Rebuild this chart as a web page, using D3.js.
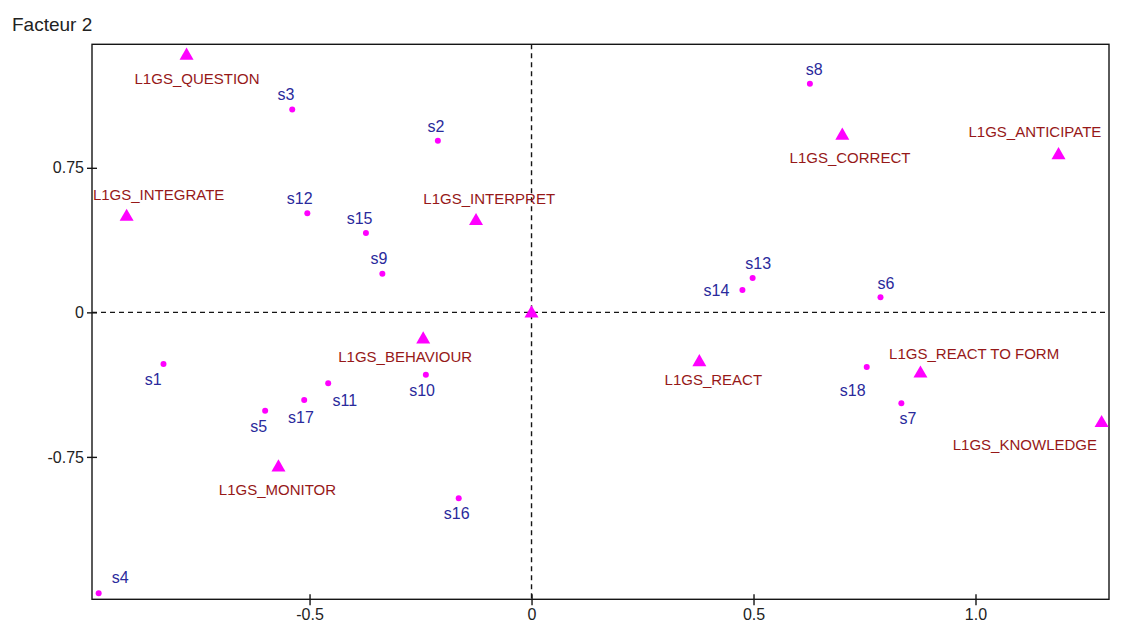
<!DOCTYPE html>
<html>
<head>
<meta charset="utf-8">
<script src="https://cdn.jsdelivr.net/npm/d3@7"></script>
<style>
  html, body { margin: 0; padding: 0; background: #fff; }
  svg { display: block; font-family: "Liberation Sans", Arial, sans-serif; }
</style>
</head>
<body>
<svg id="chart" width="1134" height="628"></svg>
<script>
// Factor map: variable modalities (triangles) and subjects (dots) on factors 1 and 2
const varNames = ["L1GS_QUESTION", "L1GS_INTEGRATE", "L1GS_INTERPRET", "L1GS_CORRECT",
  "L1GS_ANTICIPATE", "L1GS_BEHAVIOUR", "L1GS_REACT", "L1GS_REACT TO FORM",
  "L1GS_KNOWLEDGE", "L1GS_MONITOR", ""];
const varF1 = [-0.777, -0.912, -0.125, 0.700, 1.187, -0.244, 0.378, 0.876, 1.284, -0.570, 0];
const varF2 = [1.337, 0.501, 0.479, 0.922, 0.821, -0.135, -0.253, -0.312, -0.569, -0.799, 0];

const subjNames = ["s1","s2","s3","s4","s5","s6","s7","s8","s9","s10","s11","s12",
  "s13","s14","s15","s16","s17","s18"];
const subjF1 = [-0.829, -0.211, -0.539, -0.975, -0.600, 0.786, 0.833, 0.627, -0.336,
  -0.238, -0.458, -0.505, 0.498, 0.475, -0.373, -0.164, -0.512, 0.755];
const subjF2 = [-0.268, 0.890, 1.053, -1.457, -0.511, 0.078, -0.472, 1.186, 0.200,
  -0.324, -0.368, 0.514, 0.178, 0.116, 0.412, -0.964, -0.455, -0.284];

const xTicks = [-0.5, 0, 0.5, 1.0];
const xTickLabels = ["-0.5", "0", "0.5", "1.0"];
const yTicks = [-0.75, 0, 0.75];
const yTickLabels = ["-0.75", "0", "0.75"];
const yAxisTitle = "Facteur 2";

// Label placement relative to each mark (dx, baseline dy), in pixels
const varLabelOffset = [[10.5, 29.3], [32, -15.8], [13.2, -16], [7.7, 28.7], [-23.6, -17.3],
  [-18, 24], [14, 24], [53.7, -13.2], [-76.7, 28], [-1, 28.7], [0, 0]];
const subjLabelOffset = [[-10.3, 21], [-1.9, -9], [-6.3, -9.3], [21.6, -10.3], [-6.5, 21],
  [5.5, -8.3], [6.7, 20.7], [4.2, -8.7], [-3.3, -9.4], [-3.8, 21], [16.7, 22.7],
  [-7.6, -9], [5.6, -9], [-26, 5.7], [-6.4, -8.7], [-2, 21], [-3.3, 22.7], [-14, 28.7]];

const svg = d3.select("#chart");
const plotLeft = 92, plotRight = 1109, plotTop = 44.3, plotBottom = 599.3;

const x = d3.scaleLinear().domain([-0.990, 1.3007]).range([plotLeft, plotRight]);
const y = d3.scaleLinear().domain([-1.489, 1.391]).range([plotBottom, plotTop]);

const markColor = "#ff00ff";
const varColor = "#961818";
const subjColor = "#2a2a9c";
const inkColor = "#151515";

// Reference lines through the origin
svg.append("line")
  .attr("x1", plotLeft).attr("x2", plotRight).attr("y1", y(0)).attr("y2", y(0))
  .attr("stroke", inkColor).attr("stroke-width", 1.4).attr("stroke-dasharray", "5,4");
svg.append("line")
  .attr("x1", x(0)).attr("x2", x(0)).attr("y1", plotTop).attr("y2", plotBottom)
  .attr("stroke", inkColor).attr("stroke-width", 1.4).attr("stroke-dasharray", "5,4");

// Frame
svg.append("rect")
  .attr("x", plotLeft).attr("y", plotTop)
  .attr("width", plotRight - plotLeft).attr("height", plotBottom - plotTop)
  .attr("fill", "none").attr("stroke", inkColor).attr("stroke-width", 1.4);

// Axes with ticks crossing the frame
const xAxis = d3.axisBottom(x).tickValues(xTicks)
  .tickFormat((d, i) => xTickLabels[i]).tickSizeInner(11).tickSizeOuter(0).tickPadding(6);
const gx = svg.append("g").attr("transform", `translate(0,${plotBottom - 5})`).call(xAxis);
gx.select(".domain").remove();
gx.selectAll(".tick line").attr("stroke", inkColor).attr("stroke-width", 1.4);
gx.selectAll(".tick text").attr("font-size", 16).attr("fill", "#222")
  .attr("y", 14).attr("dy", "0.71em");

const yAxis = d3.axisLeft(y).tickValues(yTicks)
  .tickFormat((d, i) => yTickLabels[i]).tickSizeInner(10).tickSizeOuter(0).tickPadding(8);
const gy = svg.append("g").attr("transform", `translate(${plotLeft + 5},0)`).call(yAxis);
gy.select(".domain").remove();
gy.selectAll(".tick line").attr("stroke", inkColor).attr("stroke-width", 1.4);
gy.selectAll(".tick text").attr("font-size", 16).attr("fill", "#222").attr("x", -13);

svg.append("text")
  .attr("x", 12).attr("y", 31)
  .attr("font-size", 19).attr("fill", "#222")
  .text(yAxisTitle);

// Subjects: small dots with labels
const subj = subjNames.map((n, i) => ({ n, f1: subjF1[i], f2: subjF2[i], o: subjLabelOffset[i] }));
svg.append("g").selectAll("circle").data(subj).join("circle")
  .attr("cx", d => x(d.f1)).attr("cy", d => y(d.f2)).attr("r", 3)
  .attr("fill", markColor);
svg.append("g").selectAll("text").data(subj).join("text")
  .attr("x", d => x(d.f1) + d.o[0]).attr("y", d => y(d.f2) + d.o[1])
  .attr("text-anchor", "middle").attr("font-size", 16).attr("fill", subjColor)
  .text(d => d.n);

// Variable modalities: triangles with labels
const vars = varNames.map((n, i) => ({ n, f1: varF1[i], f2: varF2[i], o: varLabelOffset[i] }));
const tri = d3.symbol().type(d3.symbolTriangle).size(85);
svg.append("g").selectAll("path").data(vars).join("path")
  .attr("d", tri)
  .attr("transform", d => `translate(${x(d.f1)},${y(d.f2) + 1})`)
  .attr("fill", markColor);
svg.append("g").selectAll("text").data(vars).join("text")
  .attr("x", d => x(d.f1) + d.o[0]).attr("y", d => y(d.f2) + d.o[1])
  .attr("text-anchor", "middle").attr("font-size", 15).attr("fill", varColor)
  .text(d => d.n);
</script>
</body>
</html>
